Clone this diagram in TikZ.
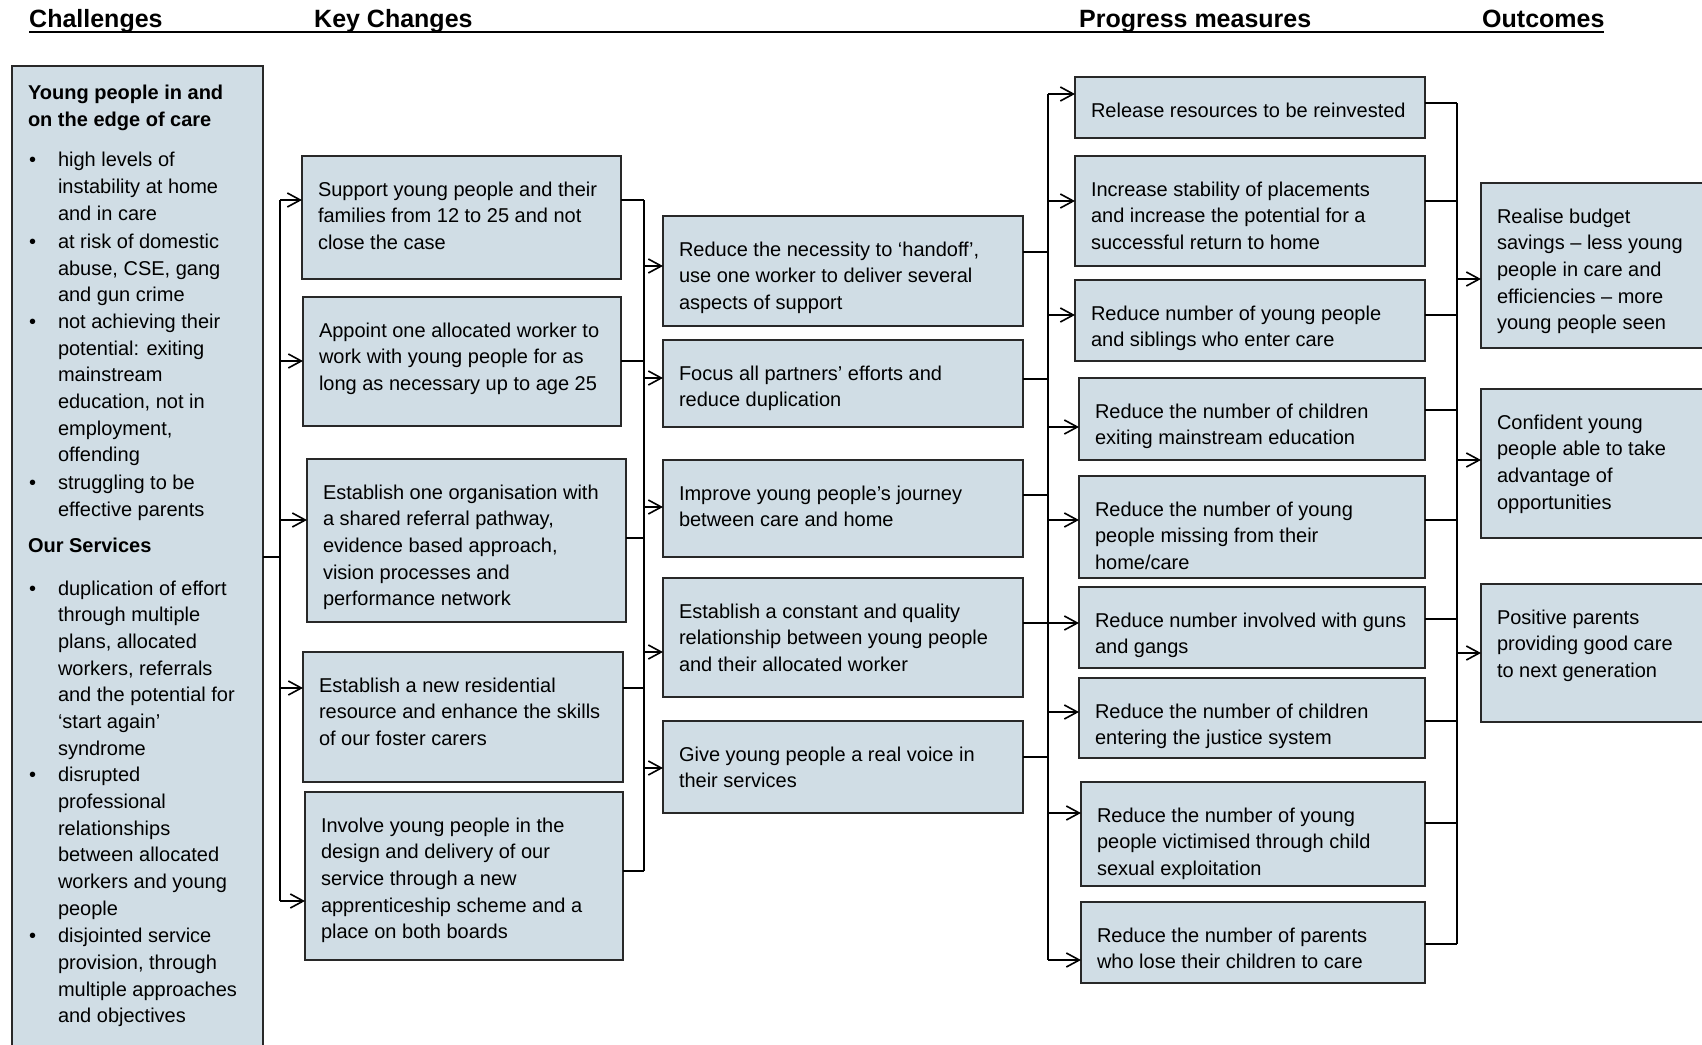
\documentclass[tikz,border=0pt]{standalone}
\usepackage{fontspec}
\setmainfont{Liberation Sans}
\usetikzlibrary{arrows.meta}
\definecolor{boxfill}{RGB}{208,221,229}
\definecolor{boxline}{RGB}{40,40,40}
\newcommand\mybox[6]{%
  \node[box, minimum width=#4pt, minimum height=#5pt] (#1) at (#2,#3) {};
  \node[txt] (#1t) at (#2+16,#3+21.31) {\strut #6};}
\newcommand\btxt[4]{\node[txt] (#1) at (#2,#3-18.69) {\strut #4};}
\newcommand\bdot[2]{\node[anchor=base west, inner sep=0pt, font=\fontsize{20}{26.7}\selectfont] (#1) at (29,#2) {•};}
\begin{document}
\begin{tikzpicture}[x=1pt,y=-1pt,
  box/.style={draw=boxline, line width=1.8pt, fill=boxfill, anchor=north west, inner sep=0pt, outer sep=0pt},
  txt/.style={anchor=north west, inner sep=0pt, outer sep=0pt, align=left, font=\fontsize{20}{26.7}\selectfont},
  conn/.style={line width=1.6pt, draw=black},
  arr/.style={conn, -{Straight Barb[length=13pt, width=14pt]}},
  head/.style={anchor=base west, inner sep=0pt, font=\fontsize{25}{30}\selectfont\bfseries}]
\useasboundingbox (0,0) rectangle (1702,1044);
\clip (0,0) rectangle (1702,1044);

% headers
\node[head] (h1) at (29,27.3) {Challenges};
\node[head] (h2) at (314,27.3) {Key Changes};
\node[head] (h3) at (1079,27.3) {Progress measures};
\node[head] (h4) at (1482,27.3) {Outcomes};
\draw[line width=2pt] (29,32) -- (1604,32);

% left box
\node[box, minimum width=251pt, minimum height=1010pt] (L) at (12,66) {};
\btxt{Lt1}{28}{99.3}{\bfseries Young people in and\\\bfseries on the edge of care}
\bdot{d1}{166.7}\btxt{l1}{58}{166.7}{high levels of\\instability at home\\and in care}
\bdot{d2}{248.3}\btxt{l2}{58}{248.3}{at risk of domestic\\abuse, CSE, gang\\and gun crime}
\bdot{d3}{328.3}\btxt{l3}{58}{328.3}{not achieving their\\potential: exiting\\mainstream\\education, not in\\employment,\\offending}
\bdot{d4}{489.3}\btxt{l4}{58}{489.3}{struggling to be\\effective parents}
\btxt{Lt2}{28}{552.7}{\bfseries Our Services}
\bdot{d5}{595}\btxt{l5}{58}{595}{duplication of effort\\through multiple\\plans, allocated\\workers, referrals\\and the potential for\\‘start again’\\syndrome}
\bdot{d6}{781.7}\btxt{l6}{58}{781.7}{disrupted\\professional\\relationships\\between allocated\\workers and young\\people}
\bdot{d7}{942.7}\btxt{l7}{58}{942.7}{disjointed service\\provision, through\\multiple approaches\\and objectives}

% key changes
\mybox{B1}{302}{156}{319}{123}{Support young people and their\\families from 12 to 25 and not\\close the case}
\mybox{B2}{303}{297}{318}{129}{Appoint one allocated worker to\\work with young people for as\\long as necessary up to age 25}
\mybox{B3}{307}{459}{319}{163}{Establish one organisation with\\a shared referral pathway,\\evidence based approach,\\vision processes and\\performance network}
\mybox{B4}{303}{652}{320}{130}{Establish a new residential\\resource and enhance the skills\\of our foster carers}
\mybox{B5}{305}{792}{318}{168}{Involve young people in the\\design and delivery of our\\service through a new\\apprenticeship scheme and a\\place on both boards}

% middle
\mybox{C1}{663}{216}{360}{110}{Reduce the necessity to ‘handoff’,\\use one worker to deliver several\\aspects of support}
\mybox{C2}{663}{340}{360}{87}{Focus all partners’ efforts and\\reduce duplication}
\mybox{C3}{663}{460}{360}{97}{Improve young people’s journey\\between care and home}
\mybox{C4}{663}{578}{360}{119}{Establish a constant and quality\\relationship between young people\\and their allocated worker}
\mybox{C5}{663}{721}{360}{92}{Give young people a real voice in\\their services}

% progress measures
\mybox{P1}{1075}{77}{350}{61}{Release resources to be reinvested}
\mybox{P2}{1075}{156}{350}{110}{Increase stability of placements\\and increase the potential for a\\successful return to home}
\mybox{P3}{1075}{280}{350}{81}{Reduce number of young people\\and siblings who enter care}
\mybox{P4}{1079}{378}{346}{82}{Reduce the number of children\\exiting mainstream education}
\mybox{P5}{1079}{476}{346}{102}{Reduce the number of young\\people missing from their\\home/care}
\mybox{P6}{1079}{587}{346}{81}{Reduce number involved with guns\\and gangs}
\mybox{P7}{1079}{678}{346}{80}{Reduce the number of children\\entering the justice system}
\mybox{P8}{1081}{782}{344}{104}{Reduce the number of young\\people victimised through child\\sexual exploitation}
\mybox{P9}{1081}{902}{344}{81}{Reduce the number of parents\\who lose their children to care}

% outcomes
\mybox{O1}{1481}{183}{240}{165}{Realise budget\\savings – less young\\people in care and\\efficiencies – more\\young people seen}
\mybox{O2}{1481}{389}{240}{149}{Confident young\\people able to take\\advantage of\\opportunities}
\mybox{O3}{1481}{584}{240}{138}{Positive parents\\providing good care\\to next generation}

% bus A
\coordinate (a0) at (280,557);
\coordinate (a1) at (280,200);
\coordinate (a2) at (280,361);
\coordinate (a3) at (280,520);
\coordinate (a4) at (280,688);
\coordinate (a5) at (280,901);
\draw[conn] (L.east |- a0) -- (a0);
\draw[conn] (a1) -- (a5);
\foreach \i in {1,...,5} \draw[arr] (a\i) -- (B\i.west |- a\i);

% bus B
\coordinate (bo1) at (644,200);
\coordinate (bo2) at (644,361);
\coordinate (bo3) at (644,538);
\coordinate (bo4) at (644,688);
\coordinate (bo5) at (644,871);
\coordinate (bi1) at (644,266);
\coordinate (bi2) at (644,378);
\coordinate (bi3) at (644,507);
\coordinate (bi4) at (644,652);
\coordinate (bi5) at (644,768);
\draw[conn] (bo1) -- (bo5);
\foreach \i in {1,...,5} {
  \draw[conn] (B\i.east |- bo\i) -- (bo\i);
  \draw[arr] (bi\i) -- (C\i.west |- bi\i);
}

% bus C
\coordinate (co1) at (1048,252);
\coordinate (co2) at (1048,379);
\coordinate (co3) at (1048,495);
\coordinate (co4) at (1048,623);
\coordinate (co5) at (1048,757);
\coordinate (ci1) at (1048,94);
\coordinate (ci2) at (1048,201);
\coordinate (ci3) at (1048,315);
\coordinate (ci4) at (1048,427);
\coordinate (ci5) at (1048,520);
\coordinate (ci6) at (1048,623);
\coordinate (ci7) at (1048,712);
\coordinate (ci8) at (1048,813);
\coordinate (ci9) at (1048,960);
\draw[conn] (ci1) -- (ci9);
\foreach \i in {1,...,5} \draw[conn] (C\i.east |- co\i) -- (co\i);
\foreach \i in {1,...,9} \draw[arr] (ci\i) -- (P\i.west |- ci\i);

% bus D
\coordinate (do1) at (1457,103);
\coordinate (do2) at (1457,201);
\coordinate (do3) at (1457,315);
\coordinate (do4) at (1457,410);
\coordinate (do5) at (1457,520);
\coordinate (do6) at (1457,619);
\coordinate (do7) at (1457,721);
\coordinate (do8) at (1457,823);
\coordinate (do9) at (1457,944);
\coordinate (di1) at (1457,279);
\coordinate (di2) at (1457,460);
\coordinate (di3) at (1457,653);
\draw[conn] (do1) -- (do9);
\foreach \i in {1,...,9} \draw[conn] (P\i.east |- do\i) -- (do\i);
\foreach \i in {1,...,3} \draw[arr] (di\i) -- (O\i.west |- di\i);
\end{tikzpicture}
\end{document}
